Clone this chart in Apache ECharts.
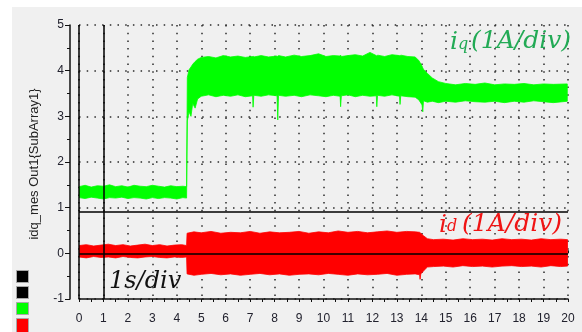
<!DOCTYPE html>
<html><head><meta charset="utf-8">
<script src="https://cdn.jsdelivr.net/npm/echarts@6/dist/echarts.min.js"></script>
<style>
html,body{margin:0;padding:0;background:#fff}
#c{width:582px;height:332px;background:linear-gradient(#f0f0f0,#f0f0f0) 12px 7px / 570px 325px no-repeat,#fff}
</style>
</head><body><div id="c"></div>
<script>
// ---- data ----
const xTickLabels = ['0','1','2','3','4','5','6','7','8','9','10','11','12','13','14','15','16','17','18','19','20'];
const yTickLabels = ['-1','0','1','2','3','4','5'];
const yAxisTitle = 'idq_mes Out1{SubArray1}';

// iq envelope: time, upper edge, lower edge of the noisy green trace
const iqT  = [0.00,0.25,0.50,0.75,1.00,1.25,1.50,1.75,2.00,2.25,2.50,2.75,3.00,3.25,3.50,3.75,4.00,4.25,4.40,
              4.43,4.50,4.58,4.65,4.75,4.85,5.00,5.30,5.60,5.90,6.20,6.50,6.80,7.10,7.12,7.15,7.45,7.75,8.10,8.13,8.16,
              8.45,8.80,9.10,9.45,9.80,10.10,10.40,10.68,10.70,10.73,11.00,11.30,11.60,11.90,12.16,12.18,12.21,12.50,12.80,
              13.11,13.13,13.16,13.45,13.75,13.90,14.03,14.06,14.09,14.25,14.45,14.70,15.00,15.40,15.80,16.20,16.60,17.00,
              17.40,17.80,18.20,18.60,19.00,19.40,19.97];
const iqHi = [1.46,1.49,1.45,1.48,1.47,1.50,1.46,1.48,1.45,1.49,1.47,1.46,1.49,1.47,1.45,1.48,1.46,1.47,1.46,
              3.85,4.02,4.08,4.14,4.20,4.25,4.29,4.31,4.28,4.33,4.30,4.32,4.29,4.31,4.32,4.30,4.33,4.30,4.32,4.31,4.33,
              4.30,4.34,4.31,4.33,4.37,4.31,4.33,4.32,4.34,4.31,4.33,4.35,4.32,4.40,4.33,4.32,4.34,4.31,4.35,
              4.33,4.32,4.34,4.31,4.30,4.22,4.10,4.06,4.03,3.94,3.84,3.76,3.72,3.69,3.72,3.70,3.73,3.69,
              3.71,3.70,3.72,3.69,3.71,3.70,3.71];
const iqLo = [1.22,1.20,1.23,1.21,1.19,1.22,1.21,1.23,1.20,1.22,1.21,1.19,1.22,1.20,1.22,1.21,1.19,1.22,1.21,
              2.90,3.10,3.00,3.28,3.18,3.38,3.44,3.47,3.43,3.46,3.44,3.47,3.43,3.45,3.20,3.46,3.44,3.47,3.45,2.92,3.46,
              3.44,3.46,3.43,3.47,3.45,3.43,3.46,3.44,3.21,3.45,3.47,3.43,3.46,3.44,3.45,3.21,3.46,3.44,3.47,
              3.44,3.26,3.45,3.43,3.42,3.36,3.25,3.10,3.34,3.31,3.33,3.30,3.33,3.31,3.34,3.32,3.31,3.33,
              3.30,3.33,3.31,3.34,3.32,3.30,3.33];

// id envelope: time, upper edge, lower edge of the noisy red trace
const idT  = [0.00,0.30,0.60,0.90,1.20,1.50,1.80,2.10,2.40,2.70,3.00,3.30,3.60,3.90,4.20,4.40,
              4.42,4.70,5.00,5.40,5.80,6.20,6.60,7.00,7.40,7.80,8.20,8.60,9.00,9.40,9.80,10.20,10.60,11.00,11.40,
              11.80,12.20,12.60,13.00,13.40,13.75,13.93,13.95,13.98,14.10,14.25,14.50,14.90,15.30,15.70,16.10,16.50,
              16.90,17.30,17.70,18.10,18.50,18.90,19.30,19.70,19.98];
const idHi = [0.17,0.19,0.16,0.18,0.20,0.17,0.19,0.16,0.18,0.20,0.17,0.19,0.16,0.18,0.19,0.17,
              0.44,0.47,0.45,0.48,0.44,0.46,0.45,0.48,0.44,0.47,0.45,0.46,0.48,0.44,0.47,0.45,0.49,0.46,0.48,
              0.45,0.47,0.49,0.46,0.48,0.47,0.46,0.45,0.44,0.38,0.32,0.30,0.31,0.29,0.32,0.30,0.31,
              0.29,0.32,0.30,0.31,0.29,0.32,0.30,0.31,0.30];
const idLo = [-0.08,-0.10,-0.07,-0.09,-0.08,-0.10,-0.07,-0.09,-0.10,-0.08,-0.07,-0.09,-0.10,-0.08,-0.09,-0.08,
              -0.45,-0.48,-0.46,-0.44,-0.47,-0.45,-0.48,-0.46,-0.44,-0.47,-0.45,-0.48,-0.46,-0.45,-0.47,-0.44,-0.46,-0.48,-0.45,
              -0.47,-0.46,-0.44,-0.48,-0.46,-0.45,-0.47,-0.57,-0.45,-0.38,-0.30,-0.29,-0.28,-0.30,-0.27,-0.29,-0.28,
              -0.30,-0.28,-0.27,-0.29,-0.28,-0.30,-0.27,-0.29,-0.28];

// cursor lines
const cursorX = [0, 1];
const cursorY = [0, 0.9];

// ---- chart ----
const chart = echarts.init(document.getElementById('c'), null, {renderer:'canvas'});

function band(T, Hi, Lo, color) {
  return {
    type: 'custom', coordinateSystem: 'cartesian2d', xAxisIndex: 0, yAxisIndex: 0,
    silent: true, clip: true, z: 3,
    data: T.map((t, i) => [t, Hi[i], Lo[i]]),
    encode: {x: 0, y: [1, 2]},
    renderItem: function (params, api) {
      if (params.dataIndex !== 0) return null;
      const pts = [];
      for (let i = 0; i < T.length; i++) pts.push(api.coord([T[i], Hi[i]]));
      for (let i = T.length - 1; i >= 0; i--) pts.push(api.coord([T[i], Lo[i]]));
      return {type: 'polygon', shape: {points: pts}, style: {fill: color, stroke: color, lineWidth: 0.8}};
    }
  };
}

const dotted = {color: '#2a2a2a', width: 1.5, type: [1.5, 6.2]};
const labelColor = '#22222e';

const option = {
  animation: false,
  backgroundColor: 'transparent',
  grid: {left: 79, right: 14, top: 25, bottom: 33, containLabel: false},
  xAxis: [{
    type: 'value', min: 0, max: 20, interval: 1, position: 'bottom',
    axisLine: {show: true, onZero: false, lineStyle: {color: '#111', width: 1.5}},
    axisTick: {show: true, length: 3, inside: false, lineStyle: {color: '#111'}},
    minorTick: {show: true, splitNumber: 2, length: 3, lineStyle: {color: '#111'}},
    axisLabel: {margin: 14, color: labelColor, fontFamily: 'Liberation Sans, Arial', fontSize: 12,
      formatter: v => xTickLabels[Math.round(v)]},
    splitLine: {show: true, lineStyle: dotted}
  }, {
    type: 'value', min: 0, max: 20, interval: 1, position: 'bottom', offset: 0,
    axisLine: {show: false},
    axisTick: {show: true, length: 3, inside: true, lineStyle: {color: '#111'}},
    minorTick: {show: true, splitNumber: 2, length: 3, lineStyle: {color: '#111'}},
    axisLabel: {show: false}, splitLine: {show: false}
  }],
  yAxis: {
    type: 'value', min: -1, max: 5, interval: 1, offset: 9,
    axisLine: {show: true, onZero: false, lineStyle: {color: '#111', width: 1.5}},
    axisTick: {show: true, length: 5, lineStyle: {color: '#111'}},
    minorTick: {show: true, splitNumber: 2, length: 3, lineStyle: {color: '#111'}},
    axisLabel: {margin: 6, color: labelColor, fontFamily: 'Liberation Sans, Arial', fontSize: 12,
      formatter: v => yTickLabels[Math.round(v) + 1]},
    splitLine: {show: true, lineStyle: dotted}
  },
  series: [
    band(iqT, iqHi, iqLo, '#00ff00'),
    band(idT, idHi, idLo, '#ff0000'),
    {
      type: 'line', data: [], z: 10, silent: true,
      markLine: {
        silent: true, symbol: 'none', animation: false,
        label: {show: false},
        lineStyle: {color: '#000', width: 1.5, type: 'solid'},
        data: cursorX.map(v => ({xAxis: v})).concat(cursorY.map(v => ({yAxis: v})))
      }
    }
  ],
  graphic: {elements: [
    {type: 'text', x: 34, y: 164, rotation: Math.PI / 2,
      style: {text: yAxisTitle, fill: '#222', font: '13px "Liberation Sans", Arial', textAlign: 'center', textVerticalAlign: 'middle'}},
    // legend swatches
    {type: 'rect', shape: {x: 16.5, y: 270.5, width: 12, height: 12}, style: {fill: '#000', stroke: '#a8a8a8', lineWidth: 1}},
    {type: 'rect', shape: {x: 16.5, y: 286.5, width: 12, height: 12}, style: {fill: '#000', stroke: '#a8a8a8', lineWidth: 1}},
    {type: 'rect', shape: {x: 16.5, y: 302.5, width: 12, height: 12}, style: {fill: '#00ff00', stroke: '#a8a8a8', lineWidth: 1}},
    {type: 'rect', shape: {x: 16.5, y: 318.5, width: 12, height: 14}, style: {fill: '#ff0000', stroke: '#a8a8a8', lineWidth: 1}},
    // annotations
    {type: 'text', x: 450, y: 42, z: 20, style: {text: 'i', fill: '#22aa55', font: 'italic 25px "DejaVu Serif"', textVerticalAlign: 'middle'}},
    {type: 'text', x: 458, y: 45, z: 20, style: {text: 'q', fill: '#22aa55', font: 'italic 16px "DejaVu Serif"', textVerticalAlign: 'middle'}},
    {type: 'text', x: 471, y: 41, z: 20, style: {text: '(1A/div)', fill: '#22aa55', font: 'italic 25px "DejaVu Serif"', textVerticalAlign: 'middle'}},
    {type: 'text', x: 439, y: 225, z: 20, style: {text: 'i', fill: '#f01414', font: 'italic 25px "DejaVu Serif"', textVerticalAlign: 'middle'}},
    {type: 'text', x: 447, y: 227, z: 20, style: {text: 'd', fill: '#f01414', font: 'italic 16px "DejaVu Serif"', textVerticalAlign: 'middle'}},
    {type: 'text', x: 462, y: 224, z: 20, style: {text: '(1A/div)', fill: '#f01414', font: 'italic 25px "DejaVu Serif"', textVerticalAlign: 'middle'}},
    {type: 'text', x: 109, y: 282, z: 20, style: {text: '1s/div', fill: '#111', font: 'italic 24px "DejaVu Serif"', textVerticalAlign: 'middle'}}
  ]}
};
chart.setOption(option);
</script>
</body></html>
